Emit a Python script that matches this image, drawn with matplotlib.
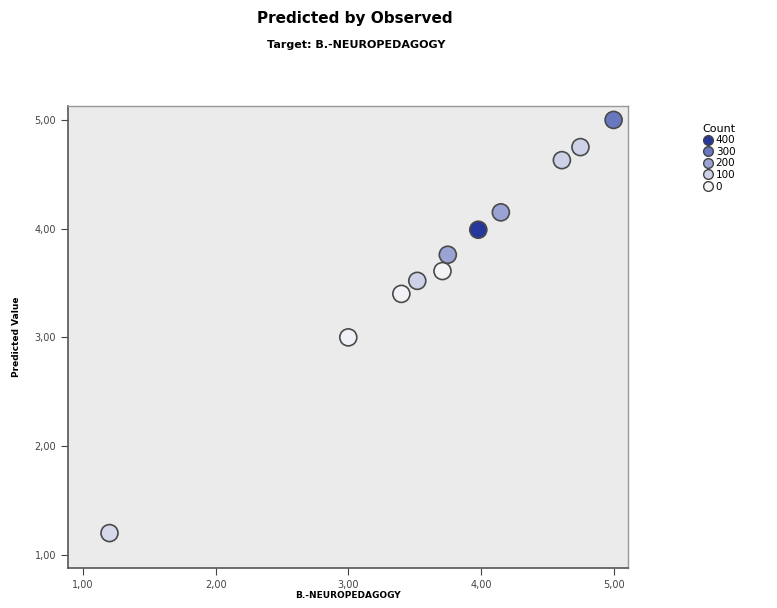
import numpy as np
import matplotlib
matplotlib.use("Agg")
import matplotlib.pyplot as plt
from matplotlib.colors import LinearSegmentedColormap, Normalize
from matplotlib.lines import Line2D
from matplotlib.ticker import FuncFormatter

# === datos ===
observado = [1.20, 3.00, 3.40, 3.52, 3.71, 3.75, 3.98, 4.15, 4.61, 4.75, 5.00]
predicho = [1.20, 3.00, 3.40, 3.52, 3.61, 3.76, 3.99, 4.15, 4.63, 4.75, 5.00]
conteo = [80, 10, 5, 100, 0, 200, 400, 200, 100, 100, 300]

leyenda_valores = [400, 300, 200, 100, 0]
ticks = [1.0, 2.0, 3.0, 4.0, 5.0]

cmap = LinearSegmentedColormap.from_list(
    "count", ["#f4f4f7", "#cdd2e8", "#9aa3d3", "#6a78bf", "#26379b"])
norm = Normalize(0, 400)

fig = plt.figure(figsize=(7.77, 6.08), dpi=100)
ax = fig.add_axes([0.0875, 0.066, 0.721, 0.760])
ax.set_facecolor("#ebebeb")

ax.scatter(observado, predicho, c=conteo, cmap=cmap, norm=norm, s=150,
           edgecolors="#4a4a4a", linewidths=1.2, zorder=3)

ax.set_xlim(0.887, 5.11)
ax.set_ylim(0.88, 5.13)
ax.set_xticks(ticks)
ax.set_yticks(ticks)
fmt = FuncFormatter(lambda v, p: f"{v:.2f}".replace(".", ","))
ax.xaxis.set_major_formatter(fmt)
ax.yaxis.set_major_formatter(fmt)
ax.tick_params(direction="out", length=5, width=0.8, colors="#444444",
               labelsize=7, labelcolor="#444444")

for lado in ["left", "bottom"]:
    ax.spines[lado].set_color("#555555")
    ax.spines[lado].set_linewidth(1.2)
for lado in ["top", "right"]:
    ax.spines[lado].set_color("#999999")
    ax.spines[lado].set_linewidth(1.0)

ax.set_xlabel("B.-NEUROPEDAGOGY", fontsize=6.5, fontweight="bold", labelpad=1)
ax.set_ylabel("Predicted Value", fontsize=6.5, fontweight="bold", labelpad=10)

fig.text(0.457, 0.970, "Predicted by Observed", ha="center", va="center",
         fontsize=11, fontweight="bold")
fig.text(0.459, 0.926, "Target: B.-NEUROPEDAGOGY", ha="center", va="center",
         fontsize=8, fontweight="bold")

# leyenda
handles = [Line2D([], [], marker="o", linestyle="none", markersize=7,
                  markerfacecolor=cmap(norm(v)), markeredgecolor="#444444",
                  markeredgewidth=1.0, label=str(v)) for v in leyenda_valores]
leg = fig.legend(handles=handles, title="Count", loc="upper left",
                 bbox_to_anchor=(0.897, 0.805), frameon=False, fontsize=7.5,
                 title_fontsize=8, handletextpad=0.1, labelspacing=0.15,
                 borderpad=0, handlelength=1.2)
leg._legend_box.align = "right"

fig.savefig("out.png", dpi=100)
